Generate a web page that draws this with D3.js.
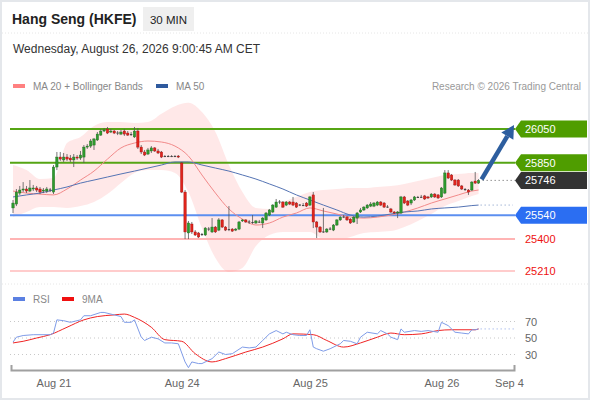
<!DOCTYPE html>
<html>
<head>
<meta charset="utf-8">
<script src="https://cdn.jsdelivr.net/npm/d3@7"></script>
<style>
  body { margin: 0; background: #fff; }
  svg { display: block; font-family: "Liberation Sans", Arial, sans-serif; }
</style>
</head>
<body>
<div id="chart"></div>
<script>
// 30 min candles (index = bar number)
const opens = [25583,25606,25671,25689,25695,25683,25695,25701,25695,25683,25683,25689,25677,25825,25884,25867,25884,25878,25867,25884,
  25878,25884,25943,25949,25955,25985,26014,26038,26050,26032,26038,26026,26020,26038,26026,26020,26003,26038,25943,25914,
  25902,25920,25938,25920,25914,25890,25890,25888,25890,25890,25849,25677,25435,25488,25441,25435,25429,25423,25458,25441,
  25470,25452,25512,25470,25458,25458,25452,25458,25506,25512,25500,25500,25494,25500,25494,25512,25541,25559,25588,25618,
  25618,25600,25618,25618,25612,25600,25600,25612,25600,25660,25500,25470,25441,25441,25458,25452,25482,25512,25529,25529,
  25517,25500,25523,25559,25571,25583,25594,25594,25600,25618,25612,25588,25577,25559,25553,25553,25648,25624,25612,25630,
  25648,25645,25654,25648,25648,25665,25660,25648,25671,25790,25778,25748,25748,25713,25695,25689,25689,25742,25730];
const highs = [25630,25695,25713,25736,25713,25748,25719,25713,25707,25701,25707,25701,25837,25914,25914,25908,25902,25896,25902,25896,
  25920,25955,25961,25991,25997,26032,26050,26056,26062,26050,26044,26038,26044,26050,26038,26032,26062,26056,25955,25926,
  25938,25949,25943,25932,25920,25896,25896,25896,25896,25896,25855,25689,25506,25500,25452,25441,25435,25470,25470,25523,
  25476,25523,25517,25476,25594,25464,25464,25506,25517,25517,25512,25541,25512,25512,25529,25559,25577,25606,25636,25630,
  25624,25624,25624,25648,25618,25606,25612,25618,25654,25677,25506,25476,25583,25464,25470,25488,25517,25535,25541,25535,
  25523,25535,25559,25583,25594,25606,25618,25618,25624,25624,25618,25600,25583,25565,25565,25654,25654,25630,25636,25654,
  25654,25660,25660,25654,25671,25671,25665,25707,25807,25807,25784,25754,25754,25719,25701,25695,25742,25796,25754];
const lows = [25553,25594,25660,25677,25671,25677,25683,25677,25665,25671,25671,25677,25665,25807,25861,25855,25861,25855,25825,25867,
  25867,25849,25932,25938,25926,25979,26009,26032,26020,26026,26020,26014,26014,26009,26009,26009,25997,25932,25902,25890,
  25896,25908,25914,25902,25878,25884,25884,25884,25884,25878,25671,25399,25399,25429,25417,25405,25417,25417,25446,25435,
  25435,25446,25464,25446,25446,25441,25446,25452,25500,25494,25488,25488,25488,25494,25464,25506,25535,25553,25583,25606,
  25583,25594,25600,25594,25583,25594,25594,25588,25594,25464,25405,25435,25435,25435,25452,25446,25476,25506,25523,25506,
  25488,25494,25488,25553,25565,25577,25588,25588,25594,25594,25583,25583,25553,25547,25523,25547,25606,25594,25600,25624,
  25642,25642,25630,25636,25642,25642,25636,25642,25665,25754,25742,25713,25707,25689,25683,25660,25683,25725,25725];
const closes = [25612,25677,25689,25695,25683,25701,25701,25689,25677,25689,25695,25692,25825,25884,25872,25884,25872,25867,25884,25878,
  25896,25943,25949,25979,25991,26020,26038,26044,26026,26038,26026,26029,26032,26020,26014,26017,26038,25943,25914,25896,
  25926,25938,25920,25908,25884,25888,25887,25890,25889,25884,25677,25441,25494,25441,25423,25411,25426,25464,25461,25470,
  25441,25512,25470,25452,25455,25446,25458,25500,25512,25500,25503,25497,25506,25502,25523,25553,25571,25600,25618,25621,
  25588,25618,25606,25600,25588,25603,25598,25594,25648,25500,25470,25441,25444,25458,25461,25482,25512,25529,25532,25512,
  25494,25529,25553,25571,25588,25600,25606,25612,25618,25600,25588,25591,25559,25553,25559,25648,25612,25600,25630,25648,
  25645,25649,25636,25642,25665,25648,25642,25701,25790,25760,25748,25719,25713,25695,25692,25677,25736,25730,25746];

// MA 20, Bollinger Bands and MA 50, sampled every 4 bars
const bandBars = [0,4,8,12,16,20,24,28,32,36,40,44,48,52,56,60,64,68,72,76,80,84,88,92,96,100,104,108,112,116,120,124,128,132,136,138];
const ma20 = [25683,25671,25665,25660,25695,25748,25801,25872,25938,25967,25979,25973,25949,25890,25778,25671,25577,25517,25482,25494,
  25529,25553,25583,25565,25547,25529,25523,25529,25541,25559,25583,25612,25636,25660,25683,25689];
const bbUpper = [25837,25807,25754,25760,25967,26003,26068,26091,26091,26086,26091,26140,26185,26205,26150,26032,25837,25677,25583,25577,
  25618,25648,25677,25689,25695,25701,25701,25707,25713,25725,25742,25760,25778,25784,25790,25790];
const bbLower = [25529,25559,25588,25588,25583,25594,25618,25665,25730,25790,25807,25807,25790,25677,25464,25287,25204,25228,25358,25423,
  25441,25441,25441,25399,25393,25411,25435,25441,25446,25470,25506,25547,25594,25624,25654,25665];
const ma50 = [25648,25660,25671,25689,25707,25730,25748,25766,25784,25801,25819,25837,25855,25855,25837,25819,25801,25778,25754,25725,
  25695,25660,25630,25600,25571,25541,25529,25535,25547,25559,25565,25577,25583,25588,25597,25600];

// RSI and its 9 period MA
const rsiBars = [0,1,3,6,11,12,13,15,17,20,21,23,26,27,30,32,33,35,36,38,39,41,43,45,47,49,51,52,53,55,56,59,61,63,65,68,70,72,74,76,
  78,80,81,83,85,87,88,89,90,92,94,97,98,100,102,103,105,108,109,111,112,114,115,116,119,121,123,126,127,129,131,133,135,136,137,138];
const rsi = [45,51,53,54,54,56,72,71,69,72,77,77,81,81,78,76,69,69,72,51,47,51,49,44,44,43,21,14,21,19,19,25,33,30,31,39,38,39,47,55,
  59,55,57,54,53,53,60,39,37,34,37,43,47,46,43,51,57,55,59,55,51,48,61,57,59,58,59,57,69,65,57,56,55,60,60,61];
const rsiMaBars = [0,3,7,11,16,21,25,30,33,36,41,45,50,54,59,63,69,74,80,83,89,93,98,103,108,112,116,121,126,130,137,138];
const rsiMa = [44,46,50,54,63,72,76,78,79,75,63,48,46,31,21,25,33,39,49,55,54,47,39,44,51,56,54,55,59,60,60,61];
const rsiLevels = [70, 50, 30];

// key levels
const resistance = [26050, 25850];
const support = [25540];
const minorSupport = [25400, 25210];
const lastPrice = 25746;
const targetPrice = 26050;

// x axis
const dayTicks = [12, 50, 88, 127, 147];
const dayLabels = ["Aug 21", "Aug 24", "Aug 25", "Aug 26", "Sep 4"];

const width = 590;
const height = 400;
const labelX = 515;

const svg = d3.select("#chart").append("svg")
  .attr("width", width)
  .attr("height", height);

svg.append("rect")
  .attr("x", 1).attr("y", 1)
  .attr("width", width - 2).attr("height", height - 2)
  .attr("fill", "#fff")
  .attr("stroke", "#e4e7eb")
  .attr("stroke-width", 2);

// header
svg.append("text")
  .attr("x", 12).attr("y", 24)
  .style("font-size", "14px").style("font-weight", "bold").style("fill", "#222")
  .text("Hang Seng (HKFE)");

svg.append("rect")
  .attr("x", 143).attr("y", 7).attr("width", 51).attr("height", 24)
  .attr("fill", "#efefef");
svg.append("text")
  .attr("x", 168.5).attr("y", 23.5)
  .attr("text-anchor", "middle")
  .style("font-size", "11.5px").style("fill", "#222")
  .text("30 MIN");

svg.append("text")
  .attr("x", 13).attr("y", 53)
  .style("font-size", "12px").style("fill", "#333")
  .text("Wednesday, August 26, 2026 9:00:45 AM CET");

// separators
[33, 284].forEach((yy) => {
  svg.append("line")
    .attr("x1", 2).attr("x2", width - 2).attr("y1", yy).attr("y2", yy)
    .attr("stroke", "#e6e6e6").attr("stroke-dasharray", "1,2");
});

// legends
function legend(x0, y0, color, label) {
  svg.append("rect").attr("x", x0).attr("y", y0 - 2).attr("width", 12).attr("height", 4).attr("fill", color);
  svg.append("text").attr("x", x0 + 20).attr("y", y0 + 3.5)
    .style("font-size", "10px").style("fill", "#888").text(label);
}
legend(13, 86, "#ff8080", "MA 20 + Bollinger Bands");
legend(156, 86, "#2f5a9e", "MA 50");
legend(13, 299, "#5b80e2", "RSI");
legend(62, 299, "#f01010", "9MA");

svg.append("text")
  .attr("x", 581).attr("y", 89.5)
  .attr("text-anchor", "end")
  .style("font-size", "10px").style("fill", "#999")
  .text("Research \u00a9 2026 Trading Central");

// scales
const x = d3.scaleLinear().domain([-0.6, 148.5]).range([11, 514]);
const y = d3.scaleLinear().domain([25210, 26050]).range([271, 129]);
const yR = d3.scaleLinear().domain([30, 70]).range([354.5, 321.5]);

// bollinger band
const band = bandBars.map((b, i) => ({ b, up: bbUpper[i], lo: bbLower[i], m20: ma20[i], m50: ma50[i] }));

svg.append("path")
  .datum(band)
  .attr("fill", "#ffe2e2")
  .attr("opacity", 0.8)
  .attr("d", d3.area().curve(d3.curveMonotoneX)
    .x((d) => x(d.b)).y0((d) => y(d.up)).y1((d) => y(d.lo)));

// level lines
function levelLine(price, color, w) {
  svg.append("line")
    .attr("x1", 10).attr("x2", labelX).attr("y1", y(price)).attr("y2", y(price))
    .attr("stroke", color).attr("stroke-width", w);
}
resistance.forEach((p) => levelLine(p, "#56a514", 2));
support.forEach((p) => levelLine(p, "#5c8ff0", 2));
levelLine(minorSupport[0], "#ffb4b4", 2);
levelLine(minorSupport[1], "#ff9a9a", 1.2);

// moving averages
svg.append("path")
  .datum(band)
  .attr("fill", "none").attr("stroke", "#f28a8a").attr("stroke-width", 1)
  .attr("d", d3.line().curve(d3.curveMonotoneX).x((d) => x(d.b)).y((d) => y(d.m20)));

svg.append("path")
  .datum(band)
  .attr("fill", "none").attr("stroke", "#5574b4").attr("stroke-width", 1)
  .attr("d", d3.line().curve(d3.curveMonotoneX).x((d) => x(d.b)).y((d) => y(d.m50)));

// candles
const bars = closes.map((c, i) => ({ i, o: opens[i], h: highs[i], l: lows[i], c }));
const cw = 2.4;

svg.append("g")
  .selectAll("line")
  .data(bars)
  .join("line")
  .attr("x1", (d) => x(d.i)).attr("x2", (d) => x(d.i))
  .attr("y1", (d) => y(d.h)).attr("y2", (d) => y(d.l))
  .attr("stroke", "#555").attr("stroke-width", 0.8);

svg.append("g")
  .selectAll("rect")
  .data(bars)
  .join("rect")
  .attr("x", (d) => x(d.i) - cw / 2)
  .attr("width", cw)
  .attr("y", (d) => y(Math.max(d.o, d.c)))
  .attr("height", (d) => Math.max(1, Math.abs(y(d.o) - y(d.c))))
  .attr("fill", (d) => Math.abs(d.c - d.o) < 5 ? "#444" : d.c > d.o ? "#2e9a2e" : "#e0241c")
  .attr("stroke", (d) => Math.abs(d.c - d.o) < 5 ? "none" : d.c > d.o ? "#1f6b1f" : "#a01010")
  .attr("stroke-width", 0.4);

// dotted guides from the last bar
const lastX = x(closes.length - 1);
svg.append("line")
  .attr("x1", lastX + 4).attr("x2", labelX).attr("y1", y(lastPrice)).attr("y2", y(lastPrice))
  .attr("stroke", "#777").attr("stroke-dasharray", "1.2,2.8");
svg.append("line")
  .attr("x1", lastX + 2).attr("x2", labelX - 2)
  .attr("y1", y(ma50[ma50.length - 1])).attr("y2", y(ma50[ma50.length - 1]))
  .attr("stroke", "#8ea4cc").attr("stroke-dasharray", "1.2,2.8");

// forecast arrow
const ax0 = lastX + 3, ay0 = y(lastPrice) - 1;
const ax1 = labelX - 1, ay1 = y(targetPrice) - 4;
const ang = Math.atan2(ay1 - ay0, ax1 - ax0);
const headLen = 13, headHalf = 7;
const bx = ax1 - headLen * Math.cos(ang), by = ay1 - headLen * Math.sin(ang);
svg.append("line")
  .attr("x1", ax0).attr("y1", ay0).attr("x2", bx).attr("y2", by)
  .attr("stroke", "#2d5e9f").attr("stroke-width", 4.5);
svg.append("polygon")
  .attr("points", [
    [ax1, ay1],
    [bx + headHalf * Math.sin(ang), by - headHalf * Math.cos(ang)],
    [bx - headHalf * Math.sin(ang), by + headHalf * Math.cos(ang)]
  ].map((p) => p.join(",")).join(" "))
  .attr("fill", "#2d5e9f");

// price tags
function tag(price, color) {
  const yy = y(price);
  svg.append("polygon")
    .attr("points", [[labelX, yy], [labelX + 6, yy - 8.5], [587, yy - 8.5], [587, yy + 8.5], [labelX + 6, yy + 8.5]]
      .map((p) => p.join(",")).join(" "))
    .attr("fill", color);
  svg.append("text")
    .attr("x", labelX + 10).attr("y", yy + 4)
    .style("font-size", "11px").style("fill", "#fff")
    .text(price);
}
resistance.forEach((p) => tag(p, "#4f9d00"));
tag(lastPrice, "#333333");
support.forEach((p) => tag(p, "#2b6ef2"));

minorSupport.forEach((p) => {
  svg.append("text")
    .attr("x", labelX + 10).attr("y", y(p) + 4)
    .style("font-size", "11px").style("fill", "#ee1111")
    .text(p);
});

// RSI panel
rsiLevels.forEach((v) => {
  svg.append("line")
    .attr("x1", 10).attr("x2", labelX).attr("y1", yR(v)).attr("y2", yR(v))
    .attr("stroke", "#c8c8c8").attr("stroke-dasharray", "1,3");
  svg.append("text")
    .attr("x", labelX + 10).attr("y", yR(v) + 4)
    .style("font-size", "11px").style("fill", "#666")
    .text(v);
});

const rsiPts = rsiBars.map((b, i) => ({ b, v: rsi[i] }));
const rsiMaPts = rsiMaBars.map((b, i) => ({ b, v: rsiMa[i] }));

svg.append("path")
  .datum(rsiMaPts)
  .attr("fill", "none").attr("stroke", "#f02424").attr("stroke-width", 1)
  .attr("d", d3.line().curve(d3.curveMonotoneX).x((d) => x(d.b)).y((d) => yR(d.v)));

svg.append("path")
  .datum(rsiPts)
  .attr("fill", "none").attr("stroke", "#7f9ce8").attr("stroke-width", 1)
  .attr("d", d3.line().x((d) => x(d.b)).y((d) => yR(d.v)));

svg.append("line")
  .attr("x1", lastX + 2).attr("x2", labelX)
  .attr("y1", yR(rsi[rsi.length - 1])).attr("y2", yR(rsi[rsi.length - 1]))
  .attr("stroke", "#9db2ea").attr("stroke-dasharray", "1.2,2.8");

// time axis
const axis = svg.append("g")
  .attr("transform", "translate(0,370)")
  .call(d3.axisBottom(x)
    .tickValues(dayTicks)
    .tickFormat((d, i) => dayLabels[i])
    .tickSizeInner(0)
    .tickSizeOuter(-5)
    .tickPadding(9));

axis.select(".domain").attr("stroke", "#a0a0a0").attr("stroke-width", 2);
axis.selectAll("text")
  .style("font-size", "11px")
  .style("fill", "#666")
  .style("font-family", "'Liberation Sans', Arial, sans-serif");
</script>
</body>
</html>
